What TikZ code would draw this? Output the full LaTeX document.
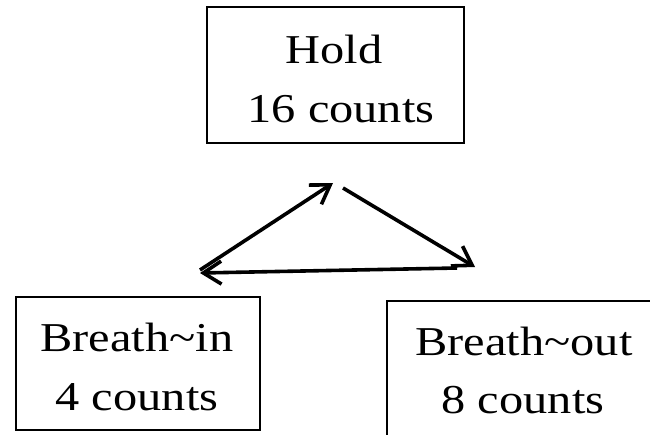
\documentclass[tikz,border=0pt]{standalone}
\usepackage{fontspec}
\setmainfont{Liberation Serif}[FakeStretch=1.18]
\usetikzlibrary{arrows.meta}
\begin{document}
\begin{tikzpicture}[x=1pt,y=-1pt,
  box/.style={draw=black,line width=1.3pt,fill=none,inner sep=0pt},
  lbl/.style={inner sep=0pt,anchor=base,font=\fontsize{41}{58}\selectfont},
  arr/.style={line width=3.6pt,-{Straight Barb[length=18pt,width=23pt,line width=3.6pt]}}]
\useasboundingbox (0,0) rectangle (650,434);
\clip (0,0) rectangle (650,434);
% boxes
\node[box,minimum width=257pt,minimum height=136pt] (hold) at (335.5,75) {};
\node[box,minimum width=244pt,minimum height=133pt] (in) at (138,363.5) {};
\node[box,minimum width=300pt,minimum height=160pt] (out) at (537,381) {};
% labels
\node[lbl] (holdA) at (334,63) {Hold};
\node[lbl] (holdB) at (341,122) {16 counts};
\node[lbl] (inA) at (137,351) {Breath\char"007E in};
\node[lbl] (inB) at (137,410) {4 counts};
\node[lbl] (outA) at (524,355) {Breath\char"007E out};
\node[lbl] (outB) at (523,413) {8 counts};
% arrow ends
\coordinate (a1s) at (200,270);
\coordinate (a1e) at (333,183);
\coordinate (a2s) at (343,188);
\coordinate (a2e) at (475,267);
\coordinate (a3s) at (457,268);
\coordinate (a3e) at (200,273);
\draw[arr] (a1s) -- (a1e);
\draw[arr] (a2s) -- (a2e);
\draw[arr] (a3s) -- (a3e);
\end{tikzpicture}
\end{document}
